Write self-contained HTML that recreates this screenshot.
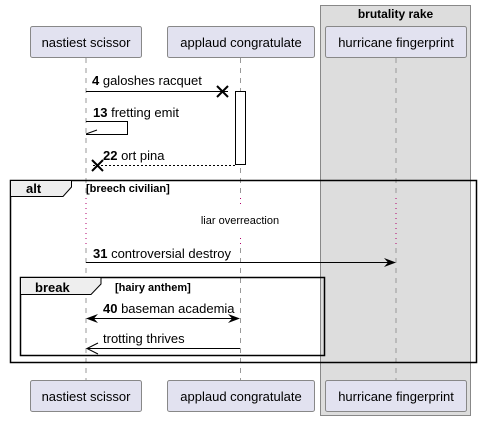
<!DOCTYPE html>
<html><head><style>body{margin:0;background:#fff}svg{display:block}text{font-family:"Liberation Sans",sans-serif}</style></head>
<body>
<svg width="481" height="421" viewBox="0 0 481 421" xmlns="http://www.w3.org/2000/svg">
<rect x="320.5" y="5.5" width="150" height="410" fill="#ddd" stroke="#888" stroke-width="1"/>
<text x="395.5" y="18" font-size="12" font-weight="bold" text-anchor="middle">brutality rake</text>
<g stroke="#999" stroke-dasharray="5,5" stroke-width="1">
<line x1="86" y1="58" x2="86" y2="198"/>
<line x1="240.5" y1="58" x2="240.5" y2="198"/>
<line x1="396" y1="58" x2="396" y2="198"/>
<line x1="86" y1="248" x2="86" y2="380"/>
<line x1="240.5" y1="248" x2="240.5" y2="380"/>
<line x1="396" y1="248" x2="396" y2="380"/>
</g>
<g stroke="#b0006c" stroke-dasharray="1,4" stroke-width="1">
<line x1="86" y1="198" x2="86" y2="248"/>
<line x1="240.5" y1="198" x2="240.5" y2="248"/>
<line x1="396" y1="198" x2="396" y2="248"/>
</g>
<rect x="197" y="208" width="86" height="26" fill="#fff"/>
<g fill="#e2e2f0" stroke="#888" stroke-width="1">
<rect x="30.5" y="26.5" width="111" height="31" rx="2"/>
<rect x="167.5" y="26.5" width="147" height="31" rx="2"/>
<rect x="325.5" y="26.5" width="141" height="31" rx="2"/>
<rect x="30.5" y="380.5" width="111" height="31" rx="2"/>
<rect x="167.5" y="380.5" width="147" height="31" rx="2"/>
<rect x="325.5" y="380.5" width="141" height="31" rx="2"/>
</g>
<g font-size="13" text-anchor="middle" fill="#000">
<text x="86" y="47">nastiest scissor</text>
<text x="241" y="47">applaud congratulate</text>
<text x="396" y="47">hurricane fingerprint</text>
<text x="86" y="401">nastiest scissor</text>
<text x="241" y="401">applaud congratulate</text>
<text x="396" y="401">hurricane fingerprint</text>
</g>
<rect x="235.5" y="91.5" width="10" height="73" fill="#fff" stroke="#000"/>
<g stroke="#000" stroke-width="1" fill="none">
<line x1="86" y1="91.5" x2="228" y2="91.5"/>
<path d="M217 86 L228 97 M217 97 L228 86" stroke-width="2"/>
<path d="M86 121.5 H127.5 V134.5 H86"/>
<path d="M86 134 L97 130"/>
<line x1="235" y1="165.5" x2="92" y2="165.5" stroke-dasharray="2,2"/>
<path d="M92 160 L103 171 M92 171 L103 160" stroke-width="2"/>
<line x1="86" y1="262.5" x2="394" y2="262.5"/>
<line x1="88" y1="318.5" x2="238" y2="318.5"/>
<line x1="88" y1="348.5" x2="240" y2="348.5"/>
<path d="M98 343 L87 348.5 L98 354"/>
<rect x="10.5" y="180.5" width="466" height="182" stroke-width="1.5"/>
<rect x="20.5" y="277.5" width="304" height="78" stroke-width="1.5"/>
</g>
<path d="M396 262.5 L384 258 L388 262.5 L384 267 Z" fill="#000"/>
<path d="M86 318.5 L98 314 L94 318.5 L98 323 Z" fill="#000"/>
<path d="M240 318.5 L228 314 L232 318.5 L228 323 Z" fill="#000"/>
<path d="M10.5 180.5 H71.5 V187 L63 196.5 H10.5 Z" fill="#eee" stroke="#000" stroke-width="1"/>
<path d="M20.5 277.5 H101 V284 L91 294.5 H20.5 Z" fill="#eee" stroke="#000" stroke-width="1"/>
<g font-size="13" fill="#000">
<text x="92" y="85"><tspan font-weight="bold">4</tspan> galoshes racquet</text>
<text x="93" y="117"><tspan font-weight="bold">13</tspan> fretting emit</text>
<text x="103" y="160"><tspan font-weight="bold">22</tspan> ort pina</text>
<text x="26" y="193" font-weight="bold" font-size="13">alt</text>
<text x="86" y="192" font-weight="bold" font-size="11">[breech civilian]</text>
<text x="240" y="224" font-size="11" text-anchor="middle">liar overreaction</text>
<text x="93" y="258"><tspan font-weight="bold">31</tspan> controversial destroy</text>
<text x="35" y="292" font-weight="bold" font-size="13">break</text>
<text x="115" y="291" font-weight="bold" font-size="11">[hairy anthem]</text>
<text x="103" y="313"><tspan font-weight="bold">40</tspan> baseman academia</text>
<text x="103" y="343">trotting thrives</text>
</g>
</svg>
</body></html>
